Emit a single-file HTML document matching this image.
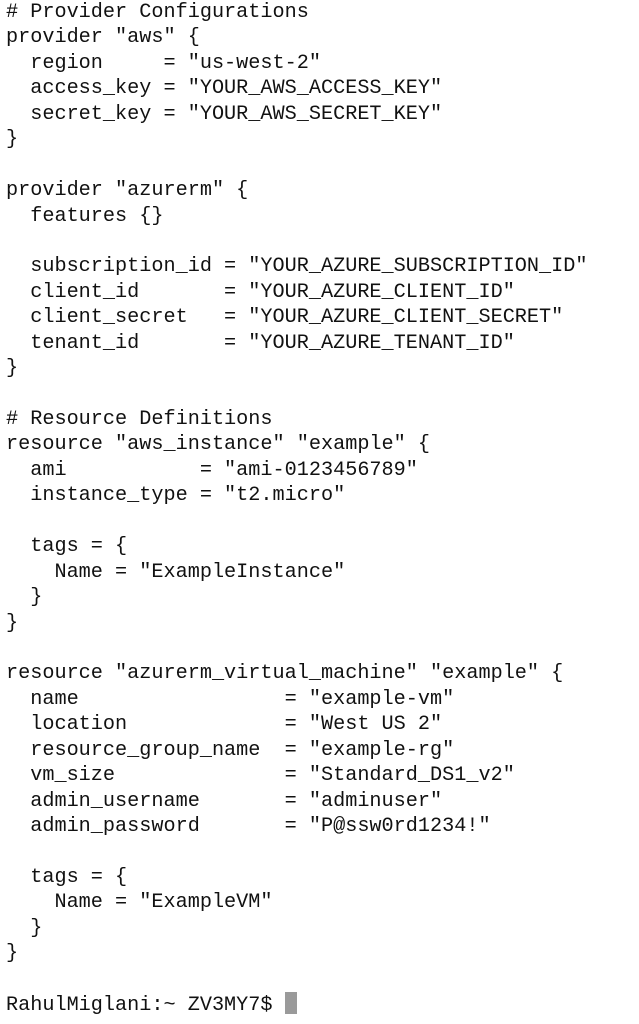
<!DOCTYPE html>
<html><head><meta charset="utf-8"><style>
html,body{margin:0;padding:0;background:#fff;width:639px;height:1024px;overflow:hidden;}
pre{position:absolute;left:6px;top:0px;margin:0;font-family:"Liberation Mono",monospace;font-size:20.2px;line-height:25.43px;color:#111;}
.cur{display:inline-block;width:12px;height:22px;background:#9a9a9a;vertical-align:-4px;}
</style></head><body><pre># Provider Configurations
provider "aws" {
  region     = "us-west-2"
  access_key = "YOUR_AWS_ACCESS_KEY"
  secret_key = "YOUR_AWS_SECRET_KEY"
}

provider "azurerm" {
  features {}

  subscription_id = "YOUR_AZURE_SUBSCRIPTION_ID"
  client_id       = "YOUR_AZURE_CLIENT_ID"
  client_secret   = "YOUR_AZURE_CLIENT_SECRET"
  tenant_id       = "YOUR_AZURE_TENANT_ID"
}

# Resource Definitions
resource "aws_instance" "example" {
  ami           = "ami-0123456789"
  instance_type = "t2.micro"

  tags = {
    Name = "ExampleInstance"
  }
}

resource "azurerm_virtual_machine" "example" {
  name                 = "example-vm"
  location             = "West US 2"
  resource_group_name  = "example-rg"
  vm_size              = "Standard_DS1_v2"
  admin_username       = "adminuser"
  admin_password       = "P@ssw0rd1234!"

  tags = {
    Name = "ExampleVM"
  }
}

RahulMiglani:~ ZV3MY7$ <span class="cur"></span></pre></body></html>
